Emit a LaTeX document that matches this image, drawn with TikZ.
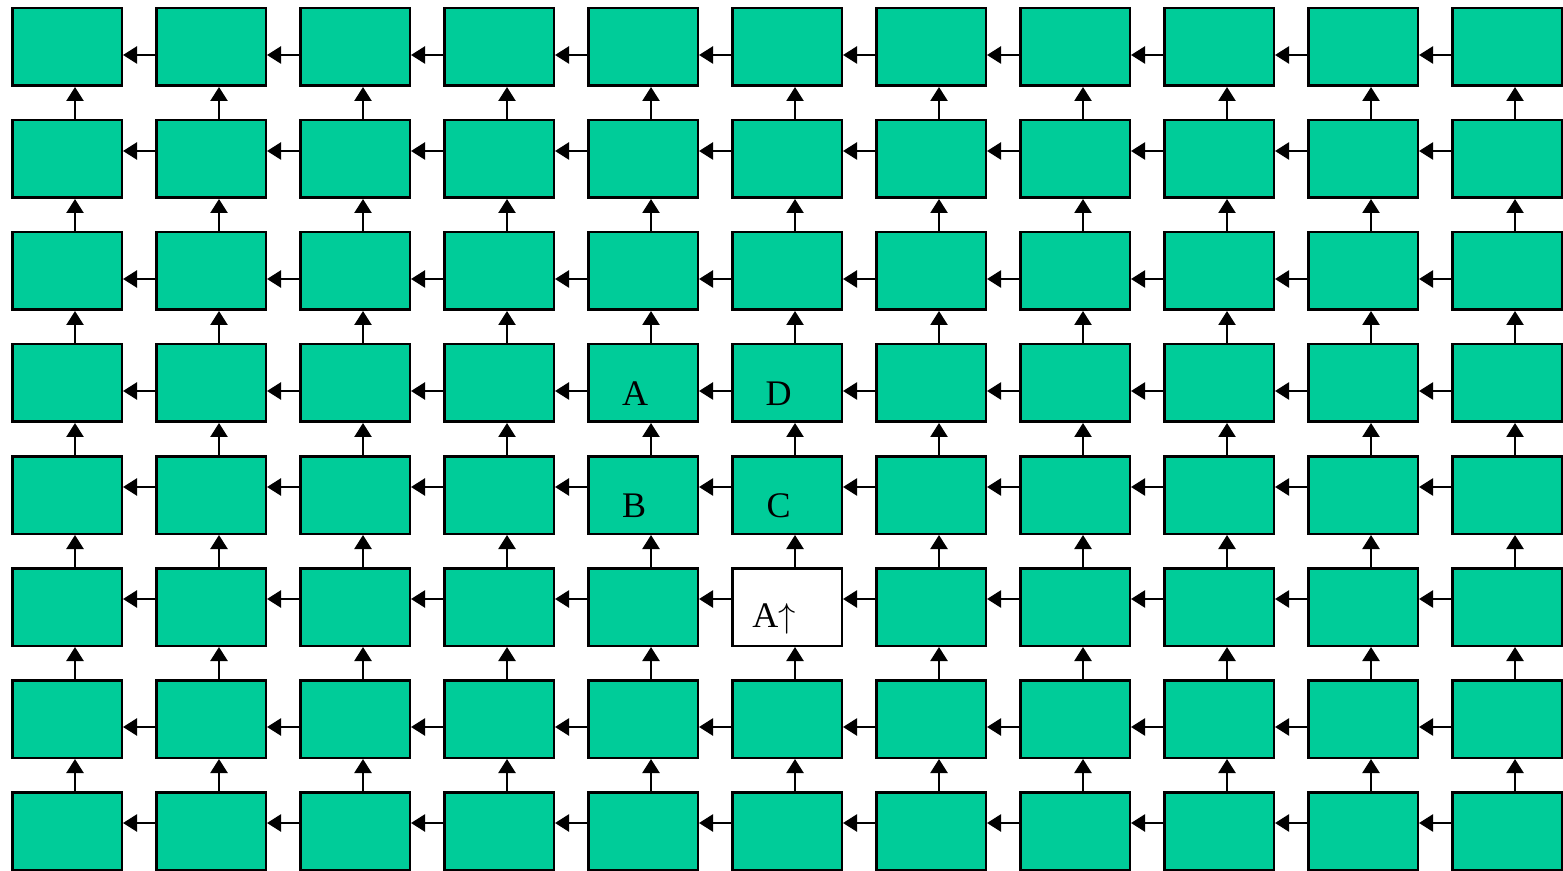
\documentclass[tikz,border=0pt]{standalone}
\usepackage{fontspec}
\setmainfont{Liberation Serif}
\usetikzlibrary{arrows.meta}
\definecolor{cellgreen}{HTML}{00CC99}
\tikzset{
  cell/.style={draw=black,line width=1.25pt,fill=cellgreen,minimum width=54.75pt,minimum height=38.75pt,inner sep=0pt},
  link/.style={line width=1.2pt,-{Triangle[length=7pt,width=8.5pt]}},
  tag/.style={font=\fontsize{18}{21}\selectfont,inner sep=0pt}
}
\begin{document}
\begin{tikzpicture}[x=0.5pt,y=-0.5pt]
\useasboundingbox (0,0) rectangle (1563,871);
% cells
\foreach \r in {0,...,7}
  \foreach \c in {0,...,10}
    \node[cell] (b-\r-\c) at ({67+144*\c},{47+112*\r}) {};
\node[cell,fill=white] (b-5-5) at (b-5-5.center) {};
% links along the rows
\foreach \r/\dy in {0/-4,1/4,2/-4,3/-4,4/4,5/4,6/-4,7/4}
  \foreach \c in {1,...,10}{
    \pgfmathtruncatemacro\prev{\c-1}
    \draw[link] ([yshift=\dy pt]b-\r-\c.west) -- ([yshift=\dy pt]b-\r-\prev.east);
  }
% links up the columns
\foreach \r in {1,...,7}{
  \pgfmathtruncatemacro\above{\r-1}
  \foreach \c in {0,...,10}
    \draw[link] ([xshift=4pt]b-\r-\c.north) -- ([xshift=4pt]b-\above-\c.south);
}
% labels
\node[tag] (tA) at ([shift={(-4pt,-5.5pt)}]b-3-4.center) {A};
\node[tag] (tD) at ([shift={(-4.2pt,-5.5pt)}]b-3-5.center) {D};
\node[tag] (tB) at ([shift={(-4.5pt,-5.5pt)}]b-4-4.center) {B};
\node[tag] (tC) at ([shift={(-4.2pt,-5.5pt)}]b-4-5.center) {C};
\node[tag] (tAup) at ([shift={(-6.5pt,-6pt)}]b-5-5.center) {A$\uparrow$};
\end{tikzpicture}
\end{document}
